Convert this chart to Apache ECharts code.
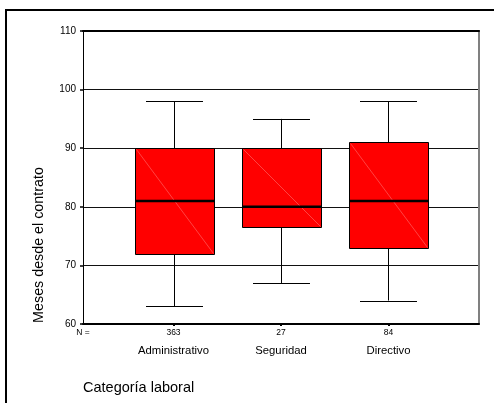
<!DOCTYPE html>
<html>
<head>
<meta charset="utf-8">
<script src="https://cdn.jsdelivr.net/npm/echarts@6/dist/echarts.min.js"></script>
<style>html,body{margin:0;padding:0;background:#fff;}#main{width:494px;height:403px;}</style>
</head>
<body>
<div id="main"></div>
<script>
const categories = ['Administrativo', 'Seguridad', 'Directivo'];
const nCounts = [363, 27, 84];
const whiskerLow = [63, 67, 64];
const q1 = [72, 76.5, 73];
const median = [81, 80, 81];
const q3 = [90, 90, 91];
const whiskerHigh = [98, 95, 98];
const yTicks = [60, 70, 80, 90, 100, 110];

const FONT = '"Liberation Sans", Arial, sans-serif';
const pad = 0.842;
const xMin = 1 - pad, xMax = categories.length + pad;

const boxData = categories.map((c, i) => [i + 1, whiskerLow[i], q1[i], median[i], q3[i], whiskerHigh[i]]);

function renderBox(params, api) {
  const x = api.value(0);
  const unit = api.size([1, 0])[0];
  const hb = unit * 0.3675, hc = unit * 0.265;
  const pLow = api.coord([x, api.value(1)]);
  const pQ1 = api.coord([x, api.value(2)]);
  const pMed = api.coord([x, api.value(3)]);
  const pQ3 = api.coord([x, api.value(4)]);
  const pHigh = api.coord([x, api.value(5)]);
  const cx = Math.round(pLow[0]) + 0.5;
  const ln = {stroke: '#000', lineWidth: 1, fill: null};
  const l = Math.round(cx - hb) + 0.5, r = Math.round(cx + hb) + 0.5;
  const t = Math.round(pQ3[1]) + 0.5, b = Math.round(pQ1[1]) + 0.5;
  return {
    type: 'group',
    children: [
      {type: 'line', shape: {x1: cx, y1: pHigh[1], x2: cx, y2: pQ3[1]}, style: ln},
      {type: 'line', shape: {x1: cx, y1: pQ1[1], x2: cx, y2: pLow[1]}, style: ln},
      {type: 'line', shape: {x1: cx - hc, y1: Math.round(pHigh[1]) + 0.5, x2: cx + hc, y2: Math.round(pHigh[1]) + 0.5}, style: ln},
      {type: 'line', shape: {x1: cx - hc, y1: Math.round(pLow[1]) + 0.5, x2: cx + hc, y2: Math.round(pLow[1]) + 0.5}, style: ln},
      {type: 'rect', shape: {x: l, y: t, width: r - l, height: b - t}, style: {fill: '#ff0000', stroke: '#000', lineWidth: 1}},
      {type: 'line', shape: {x1: l + 1, y1: t + 1, x2: r - 1, y2: b - 1}, style: {stroke: 'rgba(255,160,160,0.7)', lineWidth: 0.6}},
      {type: 'line', shape: {x1: l, y1: pMed[1], x2: r, y2: pMed[1]}, style: {stroke: '#000', lineWidth: 2.5}}
    ]
  };
}

const chart = echarts.init(document.getElementById('main'), null, {renderer: 'canvas'});
chart.setOption({
  animation: false,
  backgroundColor: '#fff',
  textStyle: {fontFamily: FONT},
  grid: {left: 83, top: 31, right: 15, bottom: 79, containLabel: false},
  xAxis: [{
    type: 'value', min: xMin, max: xMax, position: 'bottom',
    axisLine: {show: true, onZero: false, lineStyle: {color: '#000', width: 2}},
    axisTick: {show: true, customValues: [1, 2, 3], length: 2, lineStyle: {color: '#000', width: 2}},
    splitLine: {show: false},
    axisLabel: {
      customValues: [xMin, 1, 2, 3], margin: 4, color: '#000', fontFamily: FONT,
      formatter: function (v) {
        if (v < 0.5) return '{n|N =}';
        const i = Math.round(v) - 1;
        return '{n|' + nCounts[i] + '}\n{c|' + categories[i] + '}';
      },
      rich: {
        n: {fontSize: 8.5, lineHeight: 10, fontFamily: FONT, color: '#000'},
        c: {fontSize: 11.3, lineHeight: 26, fontFamily: FONT, color: '#000'}
      }
    }
  }, {
    type: 'value', position: 'top', min: 0, max: 1,
    axisLine: {show: true, onZero: false, lineStyle: {color: '#000', width: 2}},
    axisTick: {show: false}, axisLabel: {show: false}, splitLine: {show: false}
  }],
  yAxis: [{
    type: 'value', min: yTicks[0], max: yTicks[yTicks.length - 1], interval: 10,
    axisLine: {show: true, onZero: false, lineStyle: {color: '#000', width: 1}},
    axisTick: {show: true, length: 3, lineStyle: {color: '#000', width: 1.5}},
    axisLabel: {fontSize: 10, color: '#000', margin: 7, fontFamily: FONT},
    splitLine: {show: true, lineStyle: {color: '#111', width: 1}}
  }, {
    type: 'value', position: 'right', min: 0, max: 1,
    axisLine: {show: true, onZero: false, lineStyle: {color: '#808080', width: 2}},
    axisTick: {show: false}, axisLabel: {show: false}, splitLine: {show: false}
  }],
  graphic: [
    {type: 'rect', z: -10, shape: {x: 6, y: 10, width: 600, height: 600}, style: {fill: null, stroke: '#000', lineWidth: 2}},
    {type: 'text', x: 39, y: 245, rotation: Math.PI / 2,
      style: {text: 'Meses desde el contrato', font: '14.3px ' + FONT, fill: '#000', textAlign: 'center', textVerticalAlign: 'middle'}},
    {type: 'text', x: 83, y: 388,
      style: {text: 'Categoría laboral', font: '14.5px ' + FONT, fill: '#000', textAlign: 'left', textVerticalAlign: 'middle'}}
  ],
  series: [{
    type: 'custom',
    xAxisIndex: 0, yAxisIndex: 0,
    renderItem: renderBox,
    encode: {x: 0, y: [1, 2, 3, 4, 5]},
    data: boxData,
    z: 2
  }]
});
</script>
</body>
</html>
